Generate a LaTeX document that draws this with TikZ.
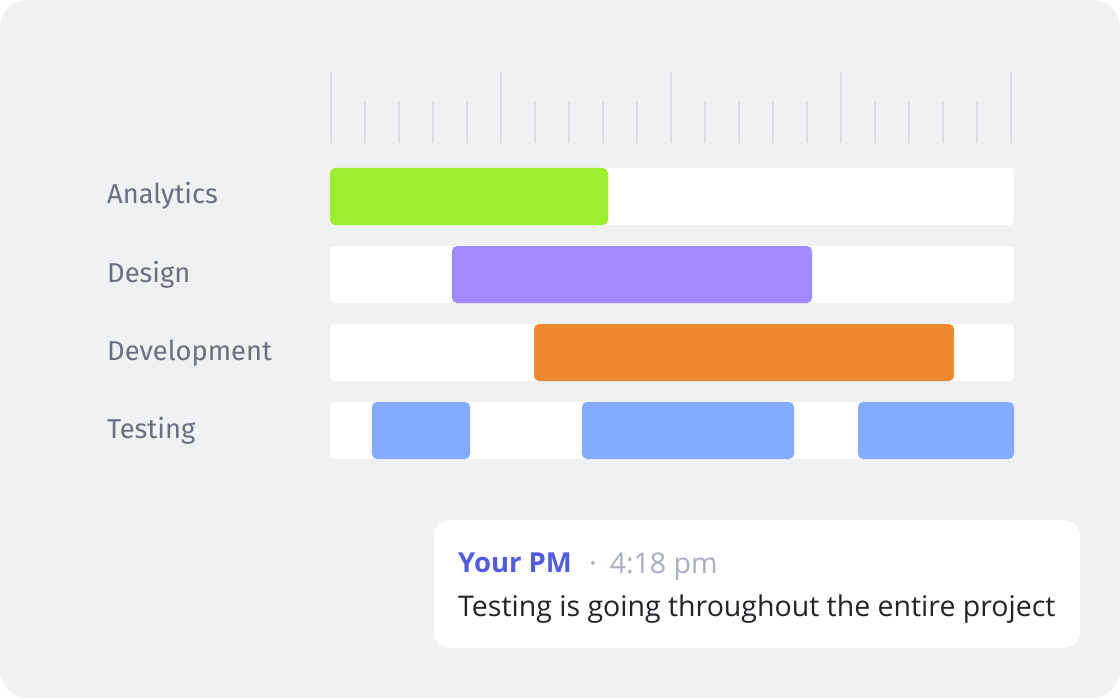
\documentclass[tikz,border=0pt]{standalone}
\usepackage{fontspec}
\setmainfont{Open Sans}
\newfontfamily\labelfont{Fira Sans}
\definecolor{cardbg}{HTML}{F0F1F3}
\definecolor{tickc}{HTML}{DCDDE1}
\definecolor{labelc}{HTML}{6B7080}
\definecolor{greenbar}{HTML}{9CEF2D}
\definecolor{purplebar}{HTML}{A18AFF}
\definecolor{orangebar}{HTML}{EE8A2E}
\definecolor{bluebar}{HTML}{83ABFF}
\definecolor{pmblue}{HTML}{4F5BE8}
\definecolor{timec}{HTML}{A9AEC0}
\definecolor{msgc}{HTML}{222428}
\begin{document}
\begin{tikzpicture}[x=1pt,y=-1pt,
  track/.style={fill=white,rounded corners=4pt},
  bar/.style={rounded corners=5pt},
  tickline/.style={draw=tickc,line width=2pt},
  rowlabel/.style={anchor=base west,inner sep=0pt,text=labelc,font=\labelfont\fontsize{27.3}{32}\selectfont},
  msgtext/.style={anchor=base west,inner sep=0pt}]
\useasboundingbox (0,0) rectangle (1120,698);
\fill[white] (0,0) rectangle (1120,698);
\fill[cardbg,rounded corners=28pt] (0,0) rectangle (1120,698);
% ticks
\foreach \i in {0,...,20}{
  \pgfmathtruncatemacro{\m}{mod(\i,5)}
  \ifnum\m=0
    \draw[tickline] (331+34*\i,72) -- (331+34*\i,143);
  \else
    \draw[tickline] (331+34*\i,102) -- (331+34*\i,143);
  \fi
}
% tracks
\foreach \y in {168,246,324,402}{
  \fill[track] (330,\y) rectangle (1014,\y+57);
}
% bars
\fill[bar,greenbar] (330,168) rectangle (608,225);
\fill[bar,purplebar] (452,246) rectangle (812,303);
\fill[bar,orangebar] (534,324) rectangle (954,381);
\fill[bar,bluebar] (372,402) rectangle (470,459);
\fill[bar,bluebar] (582,402) rectangle (794,459);
\fill[bar,bluebar] (858,402) rectangle (1014,459);
% labels
\node[rowlabel] (la) at (107,204) {Analytics};
\node[rowlabel] (ld) at (107,282) {Design};
\node[rowlabel] (lv) at (107,360) {Development};
\node[rowlabel] (lt) at (107,438) {Testing};
% message bubble
\fill[white,rounded corners=16pt] (434,520) rectangle (1080,648);
\node[msgtext,text=pmblue,font=\fontsize{27.5}{32}\selectfont\bfseries] (pm) at (458,572) {Your PM};
\node[msgtext,text=timec,font=\fontsize{28.5}{32}\selectfont] (tm) at (589,573) {\textperiodcentered\hspace{13pt}4:18 pm};
\node[msgtext,text=msgc,font=\fontsize{28.5}{33}\selectfont] (msg) at (458,616) {Testing is going throughout the entire project};
\end{tikzpicture}
\end{document}
